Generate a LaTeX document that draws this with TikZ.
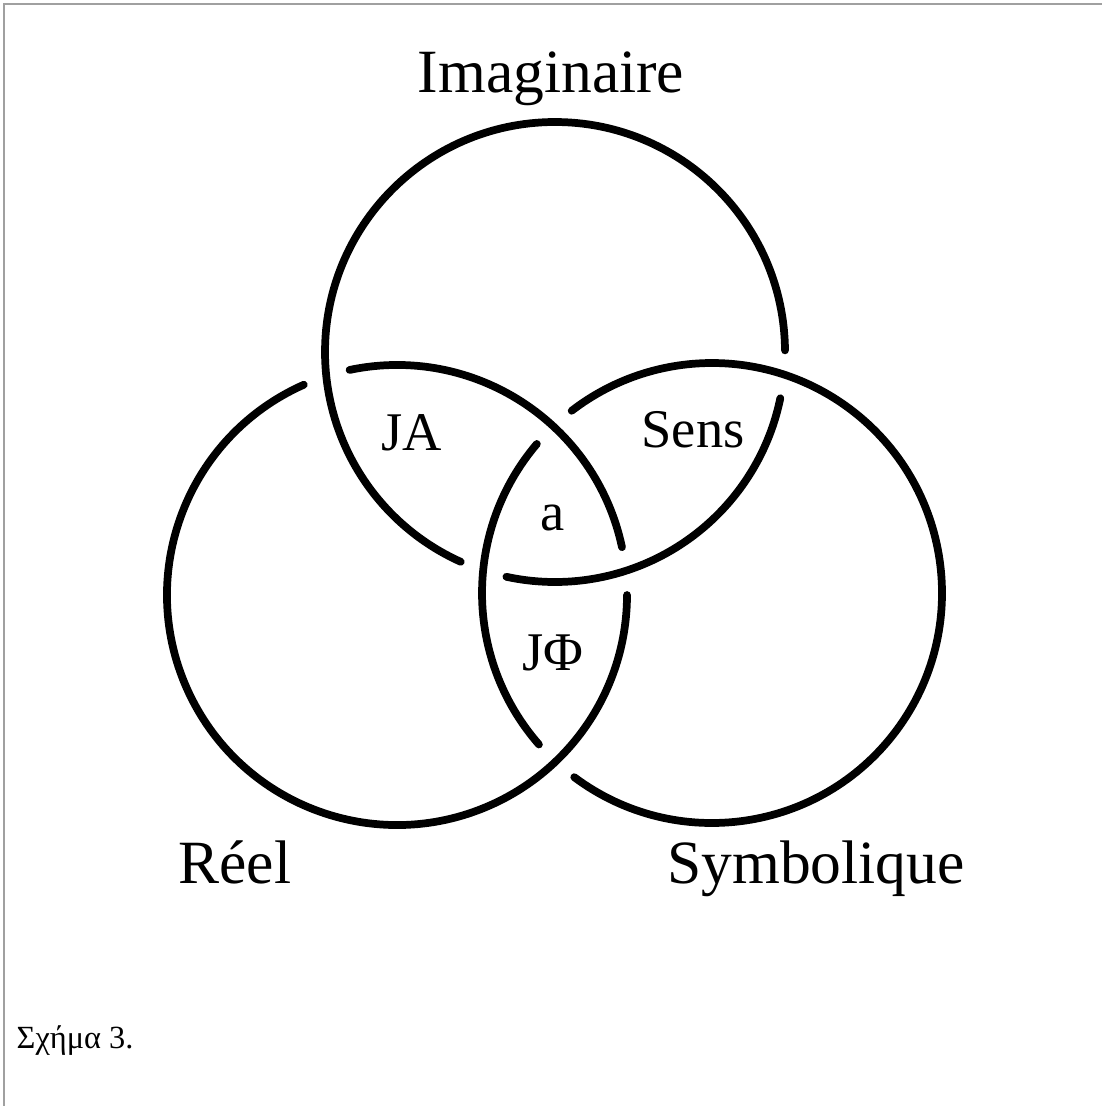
\documentclass[tikz,border=0pt]{standalone}
\usepackage{fontspec}
\setmainfont{Liberation Serif}
\usepackage{tikz}
\usetikzlibrary{calc}
\definecolor{framegray}{RGB}{160,160,160}

\tikzset{
  ring/.style={line width=2.2pt, line cap=round},
  ringname/.style={font=\fontsize{17.5}{20}\selectfont, anchor=base, inner sep=0pt},
  zonename/.style={font=\fontsize{15.5}{18}\selectfont, anchor=base, inner sep=0pt}
}

\begin{document}
\begin{tikzpicture}
            \useasboundingbox (0.00, 0.00) rectangle (11.02,-11.06);
            \draw[framegray, line width=0.7pt] (0.04,-11.06) -- (0.04,-0.04) -- (11.02,-0.04);
            % ring centres
            \coordinate (imag) at (5.55,-3.52);
            \coordinate (reel) at (3.97,-5.95);
            \coordinate (symb) at (7.12,-5.93);
            % Imaginaire: passes under Symbolique
            \draw[ring] (imag) ++(  0.4:2.30) arc[start angle=  0.4, end angle=245.8, radius=2.30];
            \draw[ring] (imag) ++(257.8:2.30) arc[start angle=257.8, end angle=348.4, radius=2.30];
            % Reel: passes under Imaginaire
            \draw[ring] (reel) ++( 12.0:2.30) arc[start angle= 12.0, end angle=101.9, radius=2.30];
            \draw[ring] (reel) ++(113.9:2.30) arc[start angle=113.9, end angle=360.0, radius=2.30];
            % Symbolique: passes under Reel
            \draw[ring] (symb) ++(139.6:2.30) arc[start angle=139.6, end angle=221.2, radius=2.30];
            \draw[ring] (symb) ++(233.2:2.30) arc[start angle=233.2, end angle=487.6, radius=2.30];
            % names
            \node[ringname] (imaglabel) at (5.51,-0.93) {Imaginaire};
            \node[ringname] (reellabel) at (2.35,-8.83) {Réel};
            \node[ringname] (symblabel) at (8.16,-8.83) {Symbolique};
            \node[zonename] (ja)   at (4.12,-4.50) {JA};
            \node[zonename] (sens) at (6.93,-4.47) {Sens};
            \node[zonename] (obja) at (5.53,-5.30) {a};
            \node[zonename] (jphi) at (5.53,-6.70) {JΦ};
            \node[anchor=base west, inner sep=0pt, font=\fontsize{9.2}{11}\selectfont] (caption) at (0.16,-10.48) {Σχήμα 3.};
        \end{tikzpicture}
\end{document}
